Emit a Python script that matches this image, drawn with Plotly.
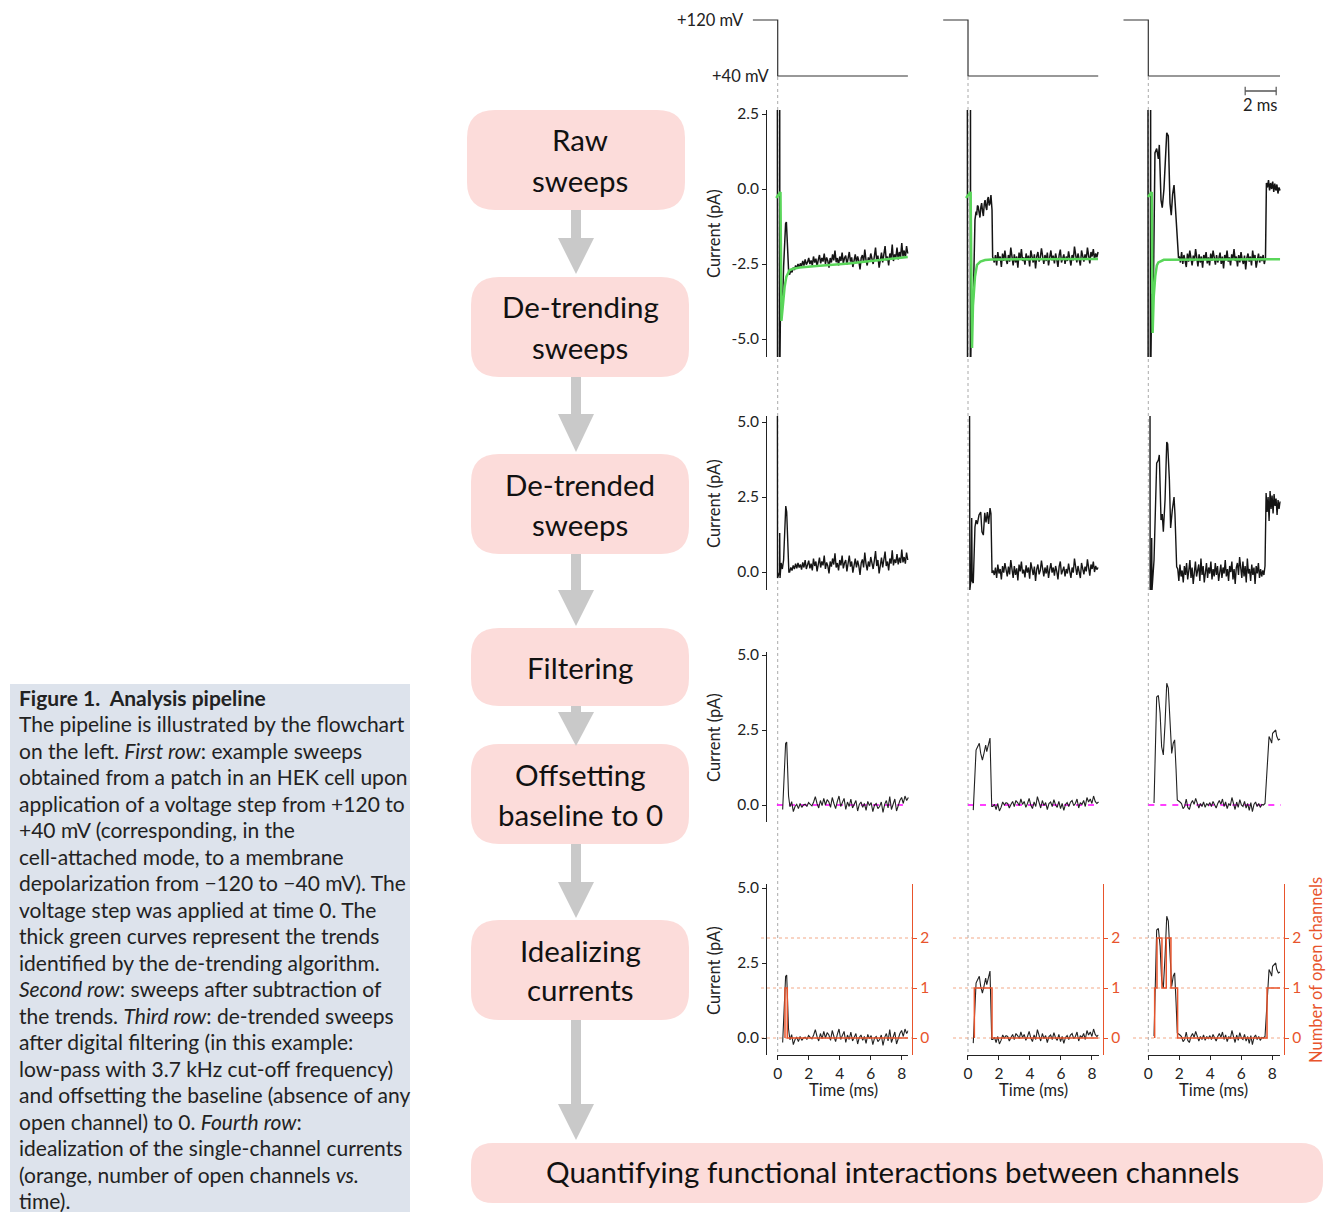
import numpy as np
import plotly.graph_objects as go

# ----------------------------- DATA -----------------------------
# voltage protocol (ms, mV)
volt_t = [[-1.6, 0.0, 0.0, 8.4], [-1.6, 0.0, 0.0, 8.4], [-1.6, 0.0, 0.0, 8.5]]
volt_mv = [120, 120, 40, 40]
scale_bar_t = [6.25, 8.25]

# ---- column 1 ----
raw1_t_head = [-0.02, -0.01, 0.12, 0.13, 0.14, 0.19, 0.23, 0.28, 0.32, 0.38, 0.45, 0.51, 0.56, 0.62, 0.71]
raw1_v_head = [3.0, -6.0, -6.0, 3.0, -6.0, -3.4, -3.9, -3.5, -3.7, -2.6, -1.5, -1.15, -1.1, -1.9, -2.8]
raw1_noise_span = [0.77, 8.39]
raw1_noise = [-2.85, -2.70, -2.78, -2.62, -2.70, -2.55, -2.66, -2.50, -2.62, -2.48,
              -2.58, -2.40, -2.55, -2.35, -2.52, -2.44, -2.30, -2.50, -2.38, -2.55,
              -2.25, -2.45, -2.32, -2.58, -2.36, -2.20, -2.48, -2.30, -2.42, -2.15,
              -2.50, -2.28, -2.40, -2.62, -2.30, -2.45, -2.18, -2.38, -2.05, -2.44,
              -2.30, -2.55, -2.25, -2.40, -2.12, -2.48, -2.30, -2.22, -2.52, -2.35,
              -2.10, -2.42, -2.28, -2.60, -2.32, -2.18, -2.45, -2.25, -2.40, -2.68,
              -2.30, -2.20, -2.45, -2.02, -2.36, -2.55, -2.28, -2.42, -2.15, -2.35,
              -2.50, -2.25, -1.95, -2.40, -2.22, -2.62, -2.30, -2.12, -2.45, -2.20,
              -1.90, -2.38, -2.25, -2.55, -2.15, -2.32, -1.85, -2.40, -2.18, -2.30,
              -1.95, -2.35, -2.10, -2.28, -1.80, -2.25, -2.05, -2.30, -1.90, -2.15]
trend1_t = [-0.1, 0.18, 0.24, 0.34, 0.45, 0.56, 0.77, 1.0, 1.42, 2.5, 3.57, 4.6, 5.72, 7.0, 8.39]
trend1_v = [-0.3, -0.1, -4.4, -3.7, -3.25, -2.92, -2.70, -2.66, -2.62, -2.57, -2.53, -2.48, -2.42, -2.34, -2.27]

det1_t_head = [-0.02, -0.01, 0.12, 0.13, 0.15, 0.22, 0.30, 0.38, 0.45, 0.52, 0.58, 0.66, 0.72]
det1_v_head = [6.0, -0.2, 0.0, 1.3, -0.2, 0.3, 0.1, 0.4, 1.5, 2.2, 2.0, 0.5, 0.0]
det1_noise_span = [0.77, 8.39]
det1_noise = [0.00, 0.15, 0.05, 0.22, 0.10, 0.28, 0.12, 0.30, 0.15, 0.25,
              0.08, 0.32, 0.15, 0.40, 0.10, 0.25, 0.38, 0.12, 0.28, 0.05,
              0.45, 0.20, 0.35, 0.02, 0.30, 0.48, 0.15, 0.35, 0.22, 0.55,
              0.10, 0.32, 0.20, -0.05, 0.35, 0.18, 0.45, 0.25, 0.62, 0.15,
              0.30, 0.05, 0.40, 0.22, 0.55, 0.12, 0.30, 0.40, 0.02, 0.25,
              0.55, 0.18, 0.35, -0.02, 0.30, 0.45, 0.15, 0.38, 0.20, -0.10,
              0.30, 0.42, 0.15, 0.65, 0.28, 0.05, 0.35, 0.18, 0.50, 0.25,
              0.10, 0.38, 0.70, 0.20, 0.40, -0.05, 0.30, 0.48, 0.15, 0.40,
              0.68, 0.20, 0.35, 0.05, 0.45, 0.28, 0.72, 0.22, 0.42, 0.30,
              0.60, 0.25, 0.48, 0.30, 0.75, 0.32, 0.50, 0.28, 0.65, 0.40]

filt1_t_head = [0.32, 0.42, 0.51, 0.58, 0.64, 0.70, 0.79]
filt1_v_head = [-0.15, 0.8, 2.05, 2.1, 1.2, 0.3, -0.06]
filt1_noise_span = [0.9, 8.43]
filt1_noise = [0.11, -0.22, -0.05, 0.02, -0.12, 0.05, -0.08, 0.00, 0.03, -0.05,
               0.08, 0.02, -0.03, 0.10, 0.28, 0.05, -0.10, 0.15, -0.02, 0.22,
               0.00, 0.18, 0.10, -0.08, 0.25, 0.05, -0.12, 0.12, 0.30, -0.05,
               0.08, 0.22, -0.15, 0.10, -0.05, 0.20, -0.10, 0.05, 0.15, -0.20,
               0.02, 0.10, -0.08, 0.05, -0.18, 0.12, -0.02, 0.08, -0.22, 0.00,
               0.05, -0.12, -0.05, 0.10, -0.25, 0.02, 0.15, -0.10, 0.28, -0.15,
               0.05, 0.20, -0.20, 0.02, 0.15, 0.25, 0.05, 0.30, 0.15, 0.25]
ideal1_t = [0.47, 0.47, 0.62, 0.62, 8.41]
ideal1_n = [0, 1, 1, 0, 0]

# ---- column 2 ----
raw2_t_head = [-0.04, -0.03, 0.15, 0.16, 0.17, 0.24, 0.29, 0.34, 0.45, 0.52, 0.56, 0.61, 0.66, 0.72, 0.77,
               0.83, 0.88, 0.94, 0.99, 1.05, 1.10, 1.16, 1.21, 1.26, 1.31, 1.37, 1.42, 1.48, 1.55, 1.59]
raw2_v_head = [3.0, -6.0, -6.0, 3.0, -6.0, -3.4, -3.9, -3.7, -1.03, -0.75, -0.87, -0.55, -0.59, -0.8, -0.95,
               -0.6, -0.47, -0.75, -0.9, -0.5, -0.37, -0.6, -0.7, -0.35, -0.27, -0.55, -0.48, -0.2, -0.7, -2.27]
raw2_noise_span = [1.62, 8.39]
raw2_noise = [-2.30, -2.45, -2.20, -2.55, -2.10, -2.38, -2.25, -2.60, -2.15, -2.40,
              -2.05, -2.35, -2.50, -2.20, -2.42, -1.95, -2.30, -2.55, -2.18, -2.45,
              -2.25, -2.62, -2.12, -2.35, -2.00, -2.40, -2.28, -2.52, -2.15, -2.38,
              -2.22, -2.58, -2.05, -2.32, -2.45, -2.18, -2.65, -2.25, -2.10, -2.42,
              -2.30, -1.98, -2.35, -2.50, -2.20, -2.40, -2.12, -2.55, -2.28, -2.05,
              -2.38, -2.22, -2.48, -2.15, -2.35, -2.60, -2.20, -2.02, -2.45, -2.30,
              -2.18, -2.50, -2.25, -2.40, -2.08, -2.32, -2.55, -2.20, -2.38, -1.92,
              -2.30, -2.45, -2.15, -2.35, -2.55, -2.05, -2.28, -2.42, -2.18, -2.35,
              -1.95, -2.30, -2.48, -2.10, -2.25, -2.00, -2.35, -2.15, -2.28, -2.10]
trend2_t = [-0.13, 0.17, 0.26, 0.32, 0.45, 0.58, 0.8, 1.1, 1.5, 8.39]
trend2_v = [-0.3, -0.1, -5.3, -3.9, -2.93, -2.53, -2.42, -2.37, -2.35, -2.33]

det2_t_head = [0.10, 0.12, 0.20, 0.24, 0.27, 0.34, 0.45, 0.52, 0.60, 0.71, 0.82, 0.90, 0.99,
               1.08, 1.16, 1.25, 1.33, 1.42, 1.48, 1.55]
det2_v_head = [6.0, -0.6, -0.2, 1.8, -0.3, -0.37, 1.5, 1.73, 1.6, 1.9, 2.0, 1.34, 1.23,
               1.97, 1.65, 2.0, 1.6, 2.13, 1.95, -0.03]
det2_noise_span = [1.62, 8.39]
det2_noise = [0.05, -0.10, 0.15, -0.20, 0.25, -0.05, 0.10, -0.25, 0.20, -0.02,
              0.30, 0.00, -0.15, 0.18, -0.08, 0.40, 0.05, -0.20, 0.20, -0.10,
              0.12, -0.28, 0.25, 0.02, 0.35, -0.05, 0.08, -0.18, 0.22, -0.02,
              0.15, -0.22, 0.32, 0.05, -0.10, 0.18, -0.30, 0.10, 0.25, -0.08,
              0.05, 0.38, 0.00, -0.15, 0.15, -0.05, 0.22, -0.20, 0.08, 0.30,
              -0.02, 0.15, -0.12, 0.20, 0.02, -0.25, 0.18, 0.35, -0.08, 0.05,
              0.18, -0.15, 0.10, -0.05, 0.28, 0.02, -0.20, 0.15, -0.02, 0.45,
              0.05, -0.10, 0.20, 0.00, -0.20, 0.30, 0.08, -0.08, 0.18, 0.02,
              0.42, 0.05, -0.12, 0.25, 0.10, 0.35, 0.00, 0.20, 0.08, 0.15]

filt2_t_head = [0.34, 0.52, 0.62, 0.73, 0.82, 0.93, 1.03, 1.14, 1.21, 1.34, 1.42, 1.53]
filt2_v_head = [-0.17, 1.83, 1.94, 2.06, 1.72, 1.5, 1.72, 2.0, 1.78, 2.06, 2.23, -0.05]
filt2_noise_span = [1.6, 8.42]
filt2_noise = [-0.05, 0.02, -0.15, 0.05, -0.20, -0.08, 0.10, 0.00, 0.08, 0.05,
               -0.10, 0.02, 0.12, -0.05, 0.15, 0.08, -0.02, 0.20, 0.02, 0.12,
               -0.08, 0.05, 0.22, 0.00, -0.12, 0.10, -0.05, 0.28, 0.05, -0.10,
               0.15, -0.02, 0.08, -0.15, 0.05, 0.10, -0.05, 0.18, 0.00, -0.08,
               0.12, -0.12, 0.05, -0.18, 0.02, 0.08, -0.05, 0.10, 0.15, -0.02,
               0.05, 0.20, -0.10, 0.08, 0.02, 0.15, -0.05, 0.25, 0.10, 0.20,
               0.05, 0.30, 0.12, 0.05, 0.10]
ideal2_t = [0.41, 0.41, 1.55, 1.55, 8.41]
ideal2_n = [0, 1, 1, 0, 0]

# ---- column 3 ----
raw3_t_head = [-0.02, -0.01, 0.13, 0.15, 0.16, 0.22, 0.32, 0.43, 0.54, 0.65, 0.71, 0.82, 0.90, 1.01,
               1.10, 1.19, 1.29, 1.40, 1.48, 1.57, 1.66, 1.74, 1.87, 1.95]
raw3_v_head = [3.0, -6.0, -6.0, 3.0, -6.0, -3.5, -3.7, 1.2, 1.35, 1.0, 1.47, -0.37, -0.62, 0.0,
               1.2, 1.87, 1.77, -0.47, -0.87, -0.17, 0.13, -0.6, -2.0, -2.3]
raw3_noise_span = [2.0, 7.56]
raw3_noise = [-2.25, -2.45, -2.10, -2.50, -2.20, -2.38, -2.60, -2.15, -2.42, -2.05,
              -2.35, -2.55, -2.22, -2.40, -2.00, -2.32, -2.58, -2.18, -2.45, -2.25,
              -2.62, -2.20, -2.35, -2.10, -2.48, -2.28, -2.55, -2.15, -2.40, -2.05,
              -2.35, -2.52, -2.20, -2.45, -2.30, -2.12, -2.50, -2.25, -2.65, -2.20,
              -2.38, -2.05, -2.42, -2.28, -2.55, -2.18, -2.35, -2.00, -2.40, -2.25,
              -2.58, -2.20, -2.45, -2.10, -2.35, -2.50, -2.22, -2.68, -2.30, -2.15,
              -2.42, -2.25, -2.55, -2.05, -2.38, -2.20, -2.62, -2.30, -2.15, -2.45,
              -2.25, -2.40, -2.20, -2.50, -2.30]
raw3_tail_span = [7.62, 8.5]
raw3_tail = [0.20, 0.05, 0.30, -0.05, 0.20, 0.00, 0.25, -0.10, 0.18, -0.05, 0.15, -0.15, 0.05, -0.05]
trend3_t = [-0.02, 0.22, 0.28, 0.35, 0.45, 0.55, 0.65, 1.0, 8.5]
trend3_v = [-0.27, -0.1, -4.8, -3.6, -2.9, -2.55, -2.45, -2.36, -2.34]

det3_t_head = [0.11, 0.12, 0.20, 0.22, 0.24, 0.37, 0.54, 0.65, 0.71, 0.82, 0.90, 0.97, 1.08, 1.19,
               1.25, 1.36, 1.44, 1.55, 1.66, 1.72, 1.83]
det3_v_head = [6.0, -0.6, -0.6, 1.13, -0.6, 0.4, 3.63, 3.73, 3.9, 1.73, 1.93, 1.34, 2.4, 4.33,
               4.27, 3.07, 1.47, 2.07, 2.5, 1.93, 0.17]
det3_noise_span = [1.9, 7.53]
det3_noise = [0.10, -0.30, 0.25, -0.15, 0.05, -0.35, 0.20, -0.10, 0.30, -0.25,
              0.05, 0.40, -0.20, 0.15, -0.40, 0.10, 0.35, -0.15, 0.00, 0.25,
              -0.30, 0.45, -0.10, 0.20, -0.35, 0.05, 0.30, -0.20, 0.15, -0.05,
              0.35, -0.25, 0.10, -0.15, 0.30, -0.10, 0.20, -0.30, 0.05, 0.25,
              -0.20, 0.15, -0.05, 0.40, -0.15, 0.10, -0.30, 0.20, 0.00, 0.35,
              -0.25, 0.10, -0.40, 0.15, 0.30, -0.10, 0.50, 0.05, -0.20, 0.35,
              -0.15, 0.20, -0.35, 0.45, -0.05, 0.10, -0.30, 0.25, -0.10, 0.15,
              -0.40, 0.20, -0.05, 0.30, -0.20, 0.10, -0.15, 0.05, -0.10, 0.20]
det3_tail_span = [7.6, 8.5]
det3_tail = [2.63, 2.0, 2.5, 1.7, 2.7, 2.1, 2.55, 1.95, 2.6, 2.2, 2.45, 1.9, 2.4, 2.1, 2.35]

filt3_t_head = [0.37, 0.54, 0.65, 0.76, 0.86, 0.97, 1.08, 1.19, 1.29, 1.40, 1.51, 1.61, 1.70, 1.79, 1.87]
filt3_v_head = [0.07, 3.6, 3.65, 3.07, 1.94, 1.67, 2.72, 4.06, 3.9, 2.5, 1.72, 2.06, 2.17, 1.2, 0.17]
filt3_noise_span = [2.04, 7.53]
filt3_noise = [0.10, 0.05, -0.12, -0.05, 0.20, -0.08, -0.15, 0.05, 0.15, 0.02,
               0.22, 0.08, -0.10, 0.05, -0.05, 0.10, -0.08, 0.05, -0.02, 0.08,
               -0.05, 0.12, 0.00, -0.10, 0.05, 0.15, 0.02, 0.20, -0.05, 0.10,
               -0.12, 0.05, -0.02, 0.25, 0.05, -0.15, 0.10, -0.08, 0.18, 0.00,
               -0.05, 0.12, -0.10, 0.05, -0.18, 0.08, -0.22, 0.02, 0.10, -0.05,
               0.05, -0.08, 0.02, 0.00, 0.05]
filt3_t_tail = [7.64, 7.79, 7.89, 7.96, 8.02, 8.13, 8.22, 8.28, 8.39, 8.5]
filt3_v_tail = [0.9, 2.28, 2.17, 2.06, 2.39, 2.44, 2.5, 2.3, 2.17, 2.2]
ideal3_t = [0.41, 0.41, 0.56, 0.56, 0.88, 0.88, 1.16, 1.16, 1.46, 1.46, 1.89, 1.89, 7.66, 7.66, 8.5]
ideal3_n = [0, 1, 1, 2, 2, 1, 1, 2, 2, 1, 1, 0, 0, 1, 1]

baseline_t = [[-0.05, 8.42], [0.0, 8.42], [0.0, 8.55]]
baseline_v = [0, 0]

row1_ticks = [-5.0, -2.5, 0.0, 2.5]
row1_ticktext = ['-5.0', '-2.5', '0.0', '2.5']
rowN_ticks = [0.0, 2.5, 5.0]
rowN_ticktext = ['0.0', '2.5', '5.0']
time_ticks = [0, 2, 4, 6, 8]
chan_ticks = [0, 1, 2]

flow_steps = [["Raw", "sweeps"], ["De-trending", "sweeps"], ["De-trended", "sweeps"],
              ["Filtering"], ["Offsetting", "baseline to 0"], ["Idealizing", "currents"]]
final_step = "Quantifying functional interactions between channels"

caption_lines = [
    "<b>Figure 1.\u00a0 Analysis pipeline</b>",
    "The pipeline is illustrated by the flowchart",
    "on the left. <i>First row</i>: example sweeps",
    "obtained from a patch in an HEK cell upon",
    "application of a voltage step from +120 to",
    "+40 mV (corresponding, in the",
    "cell-attached mode, to a membrane",
    "depolarization from \u2212120 to \u221240 mV). The",
    "voltage step was applied at time 0. The",
    "thick green curves represent the trends",
    "identified by the de-trending algorithm.",
    "<i>Second row</i>: sweeps after subtraction of",
    "the trends. <i>Third row</i>: de-trended sweeps",
    "after digital filtering (in this example:",
    "low-pass with 3.7 kHz cut-off frequency)",
    "and offsetting the baseline (absence of any",
    "open channel) to 0. <i>Fourth row</i>:",
    "idealization of the single-channel currents",
    "(orange, number of open channels <i>vs.</i>",
    "time).",
]


def series(t_head, v_head, span, noise, tail_span=None, tail=None, t_tail=None, v_tail=None):
    t = list(t_head) + list(np.linspace(span[0], span[1], len(noise)))
    v = list(v_head) + list(noise)
    if tail is not None:
        t += list(np.linspace(tail_span[0], tail_span[1], len(tail)))
        v += list(tail)
    if t_tail is not None:
        t += list(t_tail)
        v += list(v_tail)
    return t, v


raw = [series(raw1_t_head, raw1_v_head, raw1_noise_span, raw1_noise),
       series(raw2_t_head, raw2_v_head, raw2_noise_span, raw2_noise),
       series(raw3_t_head, raw3_v_head, raw3_noise_span, raw3_noise, raw3_tail_span, raw3_tail)]
trend = [(trend1_t, trend1_v), (trend2_t, trend2_v), (trend3_t, trend3_v)]
det = [series(det1_t_head, det1_v_head, det1_noise_span, det1_noise),
       series(det2_t_head, det2_v_head, det2_noise_span, det2_noise),
       series(det3_t_head, det3_v_head, det3_noise_span, det3_noise, det3_tail_span, det3_tail)]
filt = [series(filt1_t_head, filt1_v_head, filt1_noise_span, filt1_noise),
        series(filt2_t_head, filt2_v_head, filt2_noise_span, filt2_noise),
        series(filt3_t_head, filt3_v_head, filt3_noise_span, filt3_noise,
               t_tail=filt3_t_tail, v_tail=filt3_v_tail)]
ideal = [(ideal1_t, ideal1_n), (ideal2_t, ideal2_n), (ideal3_t, ideal3_n)]

# ----------------------------- LAYOUT CONSTANTS -----------------------------
W, H = 1333, 1212
FONT = "Lato"
INK = "#222222"
ORANGE = "#e8542c"
GREEN = "#5ad65a"
PINK = "#fcdcda"
ARROW = "#c9c9c9"
LBL = 16.5
TCK = 15.5


def px(x):
    return x / W


def py(y):
    return 1 - y / H


T0 = [777.7, 968.0, 1148.3]      # pixel x of t = 0 in each column
PXMS = 15.5                      # pixels per ms
X_END = [8.42, 8.42, 8.52]
OR_X = [912, 1103, 1284]
# (top px, bottom px, zero px, px per unit)
ROWS = [(14, 100, None, None), (110, 357, 189, 30), (416, 590, 572, 30),
        (652, 822, 805, 30), (884, 1055, 1038, 30)]
Y_AXIS_X = 766

fig = go.Figure()
layout = dict(width=W, height=H, margin=dict(l=0, r=0, t=0, b=0, pad=0, autoexpand=False),
              paper_bgcolor="white", plot_bgcolor="rgba(0,0,0,0)", showlegend=False,
              font=dict(family=FONT, color=INK))
shapes, annotations = [], []


def note(x, y, text, size, color=INK, xanchor="center", yanchor="middle", xref="paper", angle=0):
    annotations.append(dict(x=x, y=y, xref=xref, yref="paper", text=text, showarrow=False,
                            xanchor=xanchor, yanchor=yanchor, textangle=angle,
                            font=dict(size=size, color=color, family=FONT)))


for c in range(3):
    for r in range(5):
        k = c * 5 + r + 1
        if r == 4:
            tlo, thi = -0.05, X_END[c]
        else:
            tlo, thi = -1.75, 8.75
        xa = dict(domain=[px(T0[c] + tlo * PXMS), px(T0[c] + thi * PXMS)], range=[tlo, thi],
                  anchor=f"y{k}", showgrid=False, zeroline=False, visible=(r == 4), fixedrange=True)
        if r == 4:
            xa.update(showline=True, linecolor=INK, linewidth=1, ticks="outside", ticklen=4,
                      tickcolor=INK, tickvals=time_ticks, tickfont=dict(size=TCK, color=INK, family=FONT))
        top, bot, zero, scl = ROWS[r]
        if r == 0:
            f = lambda y: 40 + (76 - y) * 80 / 56
            yr = [f(bot), f(top)]
        else:
            yr = [(zero - bot) / scl, (zero - top) / scl]
        ya = dict(domain=[py(bot), py(top)], range=yr, showgrid=False, zeroline=False, fixedrange=True,
                  visible=(c == 0 and r > 0))
        if c == 0 and r > 0:
            ya.update(anchor="free", position=px(Y_AXIS_X), showline=True, linecolor=INK, linewidth=1,
                      ticks="outside", ticklen=4, tickcolor=INK,
                      tickvals=row1_ticks if r == 1 else rowN_ticks,
                      ticktext=row1_ticktext if r == 1 else rowN_ticktext,
                      tickfont=dict(size=TCK, color=INK, family=FONT))
        else:
            ya.update(anchor=f"x{k}")
        layout[f"xaxis{k}"] = xa
        layout[f"yaxis{k}"] = ya
    # orange channel axis
    ko = 16 + c
    top, bot, zero, _ = ROWS[4]
    layout[f"yaxis{ko}"] = dict(overlaying=f"y{c * 5 + 5}", anchor="free", position=px(OR_X[c]), side="right",
                                range=[(zero - bot) / 50, (zero - top) / 50], showgrid=False, zeroline=False,
                                showline=True, linecolor=ORANGE, linewidth=1.2, ticks="outside", ticklen=4,
                                tickcolor=ORANGE, tickvals=chan_ticks,
                                tickfont=dict(size=TCK, color=ORANGE, family=FONT), fixedrange=True)

# ---- traces ----
for c in range(3):
    kv = c * 5 + 1
    fig.add_trace(go.Scatter(x=volt_t[c], y=volt_mv, mode="lines", line=dict(color="#333", width=1.2),
                             xaxis=f"x{kv}", yaxis=f"y{kv}", hoverinfo="skip"))
    k1 = c * 5 + 2
    fig.add_trace(go.Scatter(x=raw[c][0], y=raw[c][1], mode="lines", line=dict(color="#151515", width=1.5),
                             xaxis=f"x{k1}", yaxis=f"y{k1}", hoverinfo="skip"))
    fig.add_trace(go.Scatter(x=trend[c][0], y=trend[c][1], mode="lines", line=dict(color=GREEN, width=2.5),
                             xaxis=f"x{k1}", yaxis=f"y{k1}", hoverinfo="skip"))
    k2 = c * 5 + 3
    fig.add_trace(go.Scatter(x=det[c][0], y=det[c][1], mode="lines", line=dict(color="#151515", width=1.4),
                             xaxis=f"x{k2}", yaxis=f"y{k2}", hoverinfo="skip"))
    k3 = c * 5 + 4
    fig.add_trace(go.Scatter(x=baseline_t[c], y=baseline_v, mode="lines",
                             line=dict(color="#ff00ff", width=1.6, dash="6px,6px"),
                             xaxis=f"x{k3}", yaxis=f"y{k3}", hoverinfo="skip"))
    fig.add_trace(go.Scatter(x=filt[c][0], y=filt[c][1], mode="lines", line=dict(color="#222", width=1.1),
                             xaxis=f"x{k3}", yaxis=f"y{k3}", hoverinfo="skip"))
    k4 = c * 5 + 5
    fig.add_trace(go.Scatter(x=filt[c][0], y=filt[c][1], mode="lines", line=dict(color="#222", width=1.1),
                             xaxis=f"x{k4}", yaxis=f"y{k4}", hoverinfo="skip"))
    fig.add_trace(go.Scatter(x=ideal[c][0], y=ideal[c][1], mode="lines", line=dict(color=ORANGE, width=1.5),
                             xaxis=f"x{k4}", yaxis=f"y{16 + c}", hoverinfo="skip"))

# scale bar (2 ms) drawn on column-3 voltage axes
fig.add_trace(go.Scatter(x=scale_bar_t, y=[18.6, 18.6], mode="lines+markers",
                         line=dict(color="#555", width=1.5),
                         marker=dict(symbol="line-ns", size=6, line=dict(color="#555", width=1.2)),
                         xaxis="x11", yaxis="y11", hoverinfo="skip"))
note(float(np.mean(scale_bar_t)), py(105), "2 ms", LBL, xref="x11")

# ---- shapes: dotted zero lines, orange grid ----
for c in range(3):
    shapes.append(dict(type="line", xref="paper", yref="paper", x0=px(T0[c]), x1=px(T0[c]),
                       y0=py(77), y1=py(1057), line=dict(color="#aaaaaa", width=1, dash="dot"), layer="below"))
    gl = [761, 953, 1133][c]
    for n in chan_ticks:
        shapes.append(dict(type="line", xref="paper", yref=f"y{16 + c}", x0=px(gl), x1=px(OR_X[c]),
                           y0=n, y1=n, line=dict(color="#f3a988", width=1, dash="dot"), layer="below"))

# ---- voltage labels ----
note(px(746), py(20), "+120 mV", LBL, xanchor="right")
note(px(771), py(76), "+40 mV", LBL, xanchor="right")

# axis titles
for yc in [233, 503, 737, 970]:
    note(px(714), py(yc), "Current (pA)", LBL, angle=-90)
for xc in [843, 1033, 1213]:
    note(px(xc), py(1090), "Time (ms)", LBL)
note(px(1316), py(970), "Number of open channels", LBL, color=ORANGE, angle=-90)


# ---- flowchart ----
def rrect(x0, y0, x1, y1, r):
    X, Y = px, py
    return (f"M {X(x0 + r)},{Y(y0)} L {X(x1 - r)},{Y(y0)} Q {X(x1)},{Y(y0)} {X(x1)},{Y(y0 + r)} "
            f"L {X(x1)},{Y(y1 - r)} Q {X(x1)},{Y(y1)} {X(x1 - r)},{Y(y1)} "
            f"L {X(x0 + r)},{Y(y1)} Q {X(x0)},{Y(y1)} {X(x0)},{Y(y1 - r)} "
            f"L {X(x0)},{Y(y0 + r)} Q {X(x0)},{Y(y0)} {X(x0 + r)},{Y(y0)} Z")


boxes = [(467, 110, 685, 210), (471, 277, 689, 377), (471, 454, 689, 554),
         (471, 628, 689, 706), (471, 744, 689, 844), (471, 920, 689, 1020)]
TEXT_CX = 580
for (x0, y0, x1, y1), lines in zip(boxes, flow_steps):
    shapes.append(dict(type="path", xref="paper", yref="paper", path=rrect(x0, y0, x1, y1, 28),
                       fillcolor=PINK, line=dict(width=0), layer="below"))
    cy = (y0 + y1) / 2
    n = len(lines)
    for i, s in enumerate(lines):
        yy = cy + (i - (n - 1) / 2) * 40
        note(px(TEXT_CX), py(yy), s, 29.5, color="#111")
shapes.append(dict(type="path", xref="paper", yref="paper", path=rrect(471, 1143, 1323, 1203, 22),
                   fillcolor=PINK, line=dict(width=0), layer="below"))
note(px(892), py(1171), final_step, 29.5, color="#111")

arrows = [(210, 238, 274), (377, 414, 452), (554, 590, 626), (706, 712, 746), (844, 882, 918), (1020, 1104, 1140)]
AX = 576
for ys, yh, yt in arrows:
    shapes.append(dict(type="rect", xref="paper", yref="paper", x0=px(AX - 5), x1=px(AX + 5),
                       y0=py(ys), y1=py(yh + 1), fillcolor=ARROW, line=dict(width=0)))
    shapes.append(dict(type="path", xref="paper", yref="paper",
                       path=f"M {px(AX - 18)},{py(yh)} L {px(AX + 18)},{py(yh)} L {px(AX)},{py(yt)} Z",
                       fillcolor=ARROW, line=dict(width=0)))

# ---- caption ----
shapes.append(dict(type="rect", xref="paper", yref="paper", x0=px(10), x1=px(410), y0=py(684), y1=py(1212),
                   fillcolor="#dde3ec", line=dict(width=0), layer="below"))
for i, s in enumerate(caption_lines):
    note(px(17), py(697 + 26.5 * i), s, 21, color="#222", xanchor="left")

layout["shapes"] = shapes
layout["annotations"] = annotations
fig.update_layout(**layout)
fig.write_html("out.html")
